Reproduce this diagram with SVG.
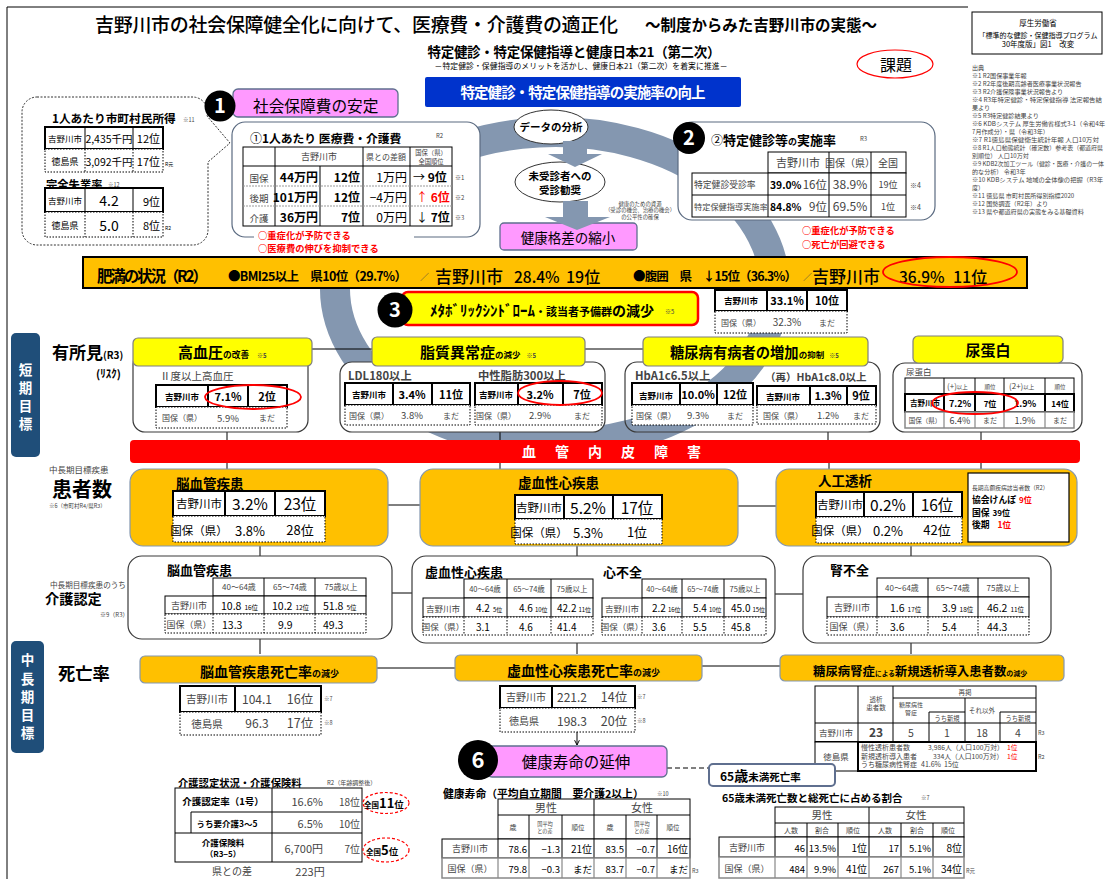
<svg xmlns="http://www.w3.org/2000/svg" width="1109" height="879" viewBox="0 0 1109 879">
<defs>
<style>
text{font-family:'Noto Sans CJK JP','Noto Sans',sans-serif;fill:#000}
.b{font-weight:700}
.m{text-anchor:middle}
.e{text-anchor:end}
.rd{fill:#f00}
.wt{fill:#fff}
.gy{fill:#444}
.tk{fill:#fff;stroke:#000;stroke-width:2}
.tn{fill:#fff;stroke:#000;stroke-width:1}
.td{fill:#fff;stroke:#000;stroke-width:1;stroke-dasharray:1.5 1.5}
.tg{fill:#fff;stroke:#888;stroke-width:1.5}
.ln{fill:none;stroke:#000;stroke-width:1}
.lk{fill:none;stroke:#000;stroke-width:2}
.ld{fill:none;stroke:#000;stroke-width:1;stroke-dasharray:1.5 1.5}
.lg{fill:none;stroke:#888;stroke-width:1.2}
.ye{fill:#ff0;stroke:#7f7f7f;stroke-width:1.2}
.or{fill:#ffc000;stroke:#8497b0;stroke-width:1.2}
.pk{fill:#f9f;stroke:#5f6f8f;stroke-width:1.3}
.wb{fill:#fff;stroke:#3a3a3a;stroke-width:1.2}
.tab{fill:#1f4e79}
.ov{fill:none;stroke:#f00;stroke-width:1.8}
.ovd{fill:none;stroke:#f00;stroke-width:1.2;stroke-dasharray:3 2}
.arr{fill:#8497b0}
</style>
<marker id="ah" viewBox="0 0 10 10" refX="9" refY="5" markerWidth="6" markerHeight="6" orient="auto"><path d="M1 1L9 5L1 9" fill="none" stroke="#000" stroke-width="1.6"/></marker>
</defs>
<rect width="1109" height="879" fill="#fff"/>
<g id="frame"><path class="ln" stroke-width="1.5" d="M7 879V7H968"/></g>
<g id="cycle"><path d="M335.1 282.6A220 156 0 1 0 355.6 222.1" fill="none" stroke="#8497b0" stroke-width="30"/></g>

<g id="title">
<text x="95" y="32" font-size="19" font-weight="500" textLength="523">吉野川市の社会保障健全化に向けて、医療費・介護費の適正化</text>
<text x="645" y="31" font-size="15.5" class="b" textLength="232">～制度からみた吉野川市の実態～</text>
<text x="574" y="57" font-size="13.5" class="b m" textLength="293">特定健診・特定保健指導と健康日本21（第二次）</text>
<text x="581" y="69" font-size="7.8" class="m" textLength="293">－特定健診・保健指導のメリットを活かし、健康日本21（第二次）を着実に推進－</text>
</g>

<g id="n-blue"><rect x="425" y="77" width="316" height="30" rx="2" fill="#0033cc"/><text x="583" y="98" font-size="14.5" class="b m wt" textLength="245">特定健診・特定保健指導の実施率の向上</text></g>

<g id="n-kadai"><ellipse cx="895" cy="64" rx="38" ry="14" fill="none" stroke="#f00" stroke-width="1.2"/><text x="896" y="71" font-size="16" class="m">課題</text></g>

<g id="n-ref"><rect x="972" y="12" width="130" height="42" fill="#fff" stroke="#000" stroke-width="1"/>
<text x="1038" y="26" font-size="7.5" class="m">厚生労働省</text>
<text x="1038" y="38" font-size="7" class="m">「標準的な健診・保健指導プログラム</text>
<text x="1038" y="47" font-size="7.5" class="m">30年度版」図1　改変</text></g>

<g id="n-notes" font-size="6.1">
<text x="972" y="69.5" class="gy">出典</text>
<text x="972" y="77.5" class="gy">※1 R2国保事業年報</text>
<text x="972" y="85.5" class="gy">※2 R2年度後期高齢者医療事業状況報告</text>
<text x="972" y="93.5" class="gy">※3 R2介護保険事業状況報告より</text>
<text x="972" y="101.5" class="gy" textLength="130" lengthAdjust="spacingAndGlyphs">※4 R3年特定健診・特定保健指導 法定報告結</text>
<text x="972" y="109.5" class="gy">果より</text>
<text x="972" y="117.5" class="gy">※5 R3特定健診結果より</text>
<text x="972" y="125.5" class="gy" textLength="133" lengthAdjust="spacingAndGlyphs">※6 KDBシステム 厚生労働省様式3-1（令和4年</text>
<text x="972" y="133.5" class="gy">7月作成分）・県（令和3年）</text>
<text x="972" y="141.5" class="gy" textLength="127" lengthAdjust="spacingAndGlyphs">※7 R1徳島県保健衛生統計年報 人口10万対</text>
<text x="972" y="149.5" class="gy" textLength="131" lengthAdjust="spacingAndGlyphs">※8 R1人口動態統計（確定数）参考表（都道府県</text>
<text x="972" y="157.5" class="gy">別順位） 人口10万対</text>
<text x="972" y="165.5" class="gy" textLength="132" lengthAdjust="spacingAndGlyphs">※9 KDB2次加工ツール（健診・医療・介護の一体</text>
<text x="972" y="173.5" class="gy">的な分析） 令和3年</text>
<text x="972" y="181.5" class="gy" textLength="131" lengthAdjust="spacingAndGlyphs">※10 KDBシステム 地域の全体像の把握（R3年</text>
<text x="972" y="189.5" class="gy">度）</text>
<text x="972" y="197.5" class="gy">※11 徳島県 市町村民所得別指標2020</text>
<text x="972" y="205.5" class="gy">※12 国勢調査（R2年）より</text>
<text x="972" y="213.5" class="gy">※13 県や都道府県の実態をみる基礎資料</text>
</g>

<g id="n-bubble">
<path d="M37 97H193A15 15 0 0 1 207 116L230 143L208 162V230A15 15 0 0 1 193 245H37A15 15 0 0 1 22 230V112A15 15 0 0 1 37 97Z" fill="#fff" stroke="#333" stroke-width="1" stroke-dasharray="2 1.5"/>
<text x="52" y="123" font-size="11.7" class="b">1人あたり市町村民所得</text>
<text x="183" y="122" font-size="5.5" class="gy">※11</text>
<rect class="tk" x="45" y="127" width="118" height="22"/>
<path class="ln" d="M85 127V149M133 127V149"/>
<rect class="td" x="45" y="149" width="118" height="23"/>
<path class="ld" d="M85 149V172M133 149V172"/>
<text x="65" y="142" font-size="8.5" class="m">吉野川市</text>
<text x="109" y="143" font-size="10.5" class="m">2,435千円</text>
<text x="160" y="143" font-size="11" class="e">12位</text>
<text x="65" y="165" font-size="9" class="m">徳島県</text>
<text x="109" y="166" font-size="10.5" class="m">3,092千円</text>
<text x="160" y="166" font-size="11" class="e">17位</text>
<text x="165" y="166" font-size="5">R元</text>
<text x="46" y="189" font-size="11.3" class="b">完全失業率</text>
<text x="108" y="187" font-size="5.5" class="gy">※12</text>
<rect class="tk" x="45" y="188" width="118" height="24"/>
<path class="ln" d="M85 188V212M133 188V212"/>
<rect class="td" x="45" y="212" width="118" height="25"/>
<path class="ld" d="M85 212V237M133 212V237"/>
<text x="65" y="204" font-size="8.5" class="m">吉野川市</text>
<text x="109" y="206" font-size="14" class="m">4.2</text>
<text x="160" y="206" font-size="11" class="e">9位</text>
<text x="65" y="229" font-size="9" class="m">徳島県</text>
<text x="109" y="231" font-size="14" class="m">5.0</text>
<text x="160" y="230" font-size="11" class="e">8位</text>
<text x="165" y="230" font-size="5">R2</text>
</g>

<g id="n-1">
<rect class="pk" x="233" y="89" width="165" height="28" rx="5"/>
<text x="253" y="112" font-size="15.7">社会保障費の安定</text>
<circle cx="220" cy="106" r="15.5" fill="#000"/>
<text x="220" y="113" font-size="20" class="b m wt">1</text>
</g>

<g id="n-cost">
<rect x="232" y="122" width="248" height="115" rx="13" fill="#fff" stroke="#5a6a80" stroke-width="1.2"/>
<text x="250" y="143" font-size="12">①<tspan class="b" font-size="11.8">1人あたり 医療費・介護費</tspan></text>
<text x="436" y="138" font-size="6" class="gy">R2</text>
<rect class="tn" x="243" y="147" width="209" height="79" stroke-width="1.5"/>
<path class="ln" d="M275 147V226M363 147V226M410 147V226M320 166V226M243 166H452"/>
<path fill="none" stroke="#999" stroke-width="1" stroke-dasharray="2 1" d="M243 186H452M243 206H452"/>
<text x="319" y="160" font-size="9" class="m gy">吉野川市</text>
<text x="386" y="160" font-size="8" class="m gy">県との差額</text>
<text x="431" y="155" font-size="6.3" class="m gy">国保（県）</text>
<text x="431" y="163.5" font-size="6.3" class="m gy">全国順位</text>
<text x="259" y="182" font-size="9.5" class="m gy">国保</text>
<text x="318" y="182" font-size="12" class="b e">44万円</text>
<text x="360" y="182" font-size="12" class="b e">12位</text>
<text x="407" y="182" font-size="12" class="e">1万円</text>
<text x="413" y="182" font-size="12">→ <tspan class="b">9位</tspan></text>
<text x="455" y="180" font-size="6" class="gy">※1</text>
<text x="259" y="202" font-size="9.5" class="m gy">後期</text>
<text x="318" y="202" font-size="12" class="b e">101万円</text>
<text x="360" y="202" font-size="12" class="b e">12位</text>
<text x="407" y="202" font-size="12" class="e">−4万円</text>
<text x="416" y="202" font-size="12" class="rd">↑ <tspan class="b rd">6位</tspan></text>
<text x="455" y="200" font-size="6" class="gy">※2</text>
<text x="259" y="222" font-size="9.5" class="m gy">介護</text>
<text x="318" y="222" font-size="12" class="b e">36万円</text>
<text x="360" y="222" font-size="12" class="b e">7位</text>
<text x="407" y="222" font-size="12" class="e">0万円</text>
<text x="416" y="222" font-size="12">↓ <tspan class="b">7位</tspan></text>
<text x="455" y="220" font-size="6" class="gy">※3</text>
<rect x="254" y="229" width="160" height="25" fill="#fff"/>
<text x="258" y="239" font-size="9.3" class="b rd">○重症化が予防できる</text>
<text x="258" y="252" font-size="9.3" class="b rd">○医療費の伸びを抑制できる</text>
</g>

<g id="n-flow">
<ellipse cx="551" cy="127" rx="37" ry="17" fill="#fff" stroke="#333" stroke-width="1"/>
<text x="551" y="131" font-size="10.5" class="b m">データの分析</text>
<ellipse cx="560" cy="182" rx="45" ry="20" fill="#fff" stroke="#333" stroke-width="1"/>
<text x="560" y="180" font-size="10.5" class="b m">未受診者への</text>
<text x="560" y="194" font-size="10.5" class="b m">受診勧奨</text>
<polygon class="arr" points="563,141 587,141 587,154 602,154 575,167 548,154 563,154"/>
<rect class="pk" x="500" y="223" width="137" height="27" rx="4"/>
<text x="568" y="243" font-size="13.5" class="m">健康格差の縮小</text>
<polygon class="arr" points="563,201 588,201 588,217 610,217 577,230 545,217 563,217"/>
<text x="640" y="205.5" font-size="5.4" class="m gy">健康のための資源</text>
<text x="640" y="212" font-size="5.4" class="m gy">（受診の機会、治療の機会）</text>
<text x="640" y="218.5" font-size="5.4" class="m gy">の公平性の確保</text>
</g>

<g id="n-2">
<rect x="678" y="122" width="257" height="98" rx="14" fill="#fff" stroke="#5a6a80" stroke-width="1.2"/>
<circle cx="689" cy="138" r="16" fill="#000"/>
<text x="689" y="145" font-size="20" class="b m wt">2</text>
<text x="711" y="145" font-size="12">②<tspan class="b" font-size="13">特定健診等</tspan><tspan class="b" font-size="9">の</tspan><tspan class="b" font-size="13">実施率</tspan></text>
<text x="860" y="141" font-size="6" class="gy">R3</text>
<rect class="tn" x="768" y="152" width="138" height="21"/>
<path class="ln" d="M829 152V173M871 152V173"/>
<rect class="tn" x="692" y="173" width="214" height="44"/>
<path class="ln" d="M692 195H906M768 173V217M829 173V217M871 173V217"/>
<text x="798" y="167" font-size="11" class="m gy">吉野川市</text>
<text x="850" y="167" font-size="10" class="m gy">国保（県）</text>
<text x="888" y="167" font-size="10" class="m gy">全国</text>
<text x="694" y="188" font-size="8.8" class="gy">特定健診受診率</text>
<text x="770" y="189" font-size="10.3" class="b">39.0%</text>
<text x="827" y="189" font-size="11.5" class="e gy">16位</text>
<text x="850" y="189" font-size="12" class="m gy">38.9%</text>
<text x="888" y="188" font-size="9" class="m gy">19位</text>
<text x="910" y="188" font-size="7" class="gy">※4</text>
<text x="694" y="210" font-size="8.2" class="gy">特定保健指導実施率</text>
<text x="770" y="211" font-size="10.3" class="b">84.8%</text>
<text x="827" y="211" font-size="11.5" class="e gy">9位</text>
<text x="850" y="211" font-size="12" class="m gy">69.5%</text>
<text x="888" y="210" font-size="9" class="m gy">1位</text>
<text x="910" y="210" font-size="7" class="gy">※4</text>
<text x="802" y="234" font-size="9.3" class="b rd">○重症化が予防できる</text>
<text x="802" y="248" font-size="9.3" class="b rd">○死亡が回避できる</text>
</g>

<g id="n-obesity">
<rect x="83" y="257" width="944" height="31" fill="#ffc000" stroke="#000" stroke-width="2"/>
<text x="97" y="282" font-size="15.5" class="b" textLength="111">肥満の状況（R2）</text>
<text x="228" y="281" font-size="12.5" class="b" textLength="179">●BMI25以上　県10位（29.7%）</text>
<text x="420" y="280" font-size="9" class="gy">／</text>
<text x="435" y="283" font-size="17" font-weight="500">吉野川市<tspan x="514" font-size="15.5">28.4%</tspan><tspan x="566" font-size="16">19位</tspan></text>
<text x="633" y="281" font-size="12.5" class="b" textLength="164">●腹囲　県　↓15位（36.3%）</text>
<text x="803" y="280" font-size="9" class="gy">／</text>
<text x="812" y="283" font-size="17" font-weight="500">吉野川市<tspan x="899" font-size="15.5">36.9%</tspan><tspan x="953" font-size="16">11位</tspan></text>
<ellipse class="ov" cx="950" cy="272" rx="67" ry="15"/>
</g>

<g id="n-3">
<rect x="402" y="292" width="296" height="33" rx="6" fill="#ff0" stroke="#f00" stroke-width="2.5"/>
<circle cx="395" cy="310" r="17.5" fill="#000"/>
<text x="395" y="317" font-size="20" class="b m wt">3</text>
<text x="430" y="316" font-size="15" class="b">ﾒﾀﾎﾞﾘｯｸｼﾝﾄﾞﾛｰﾑ<tspan font-size="11">・該当者予備群</tspan><tspan font-size="14">の減少</tspan></text>
<text x="665" y="314" font-size="6" class="gy">※5</text>
<rect class="tk" x="715" y="290" width="132" height="21"/>
<path class="lk" d="M767 290V311M807 290V311"/>
<rect class="td" x="715" y="311" width="132" height="22"/>
<text x="741" y="304" font-size="8.5" class="b m">吉野川市</text>
<text x="787" y="305" font-size="11" class="b m">33.1%</text>
<text x="827" y="305" font-size="11" class="b m">10位</text>
<text x="741" y="326" font-size="8" class="m gy">国保（県）</text>
<text x="787" y="326" font-size="10" class="m gy">32.3%</text>
<text x="827" y="326" font-size="8" class="m gy">まだ</text>
</g>

<g id="n-tabs">
<rect class="tab" x="11" y="333" width="29" height="124" rx="5"/>
<text x="25.5" y="375" font-size="13.5" class="b m wt">短</text>
<text x="25.5" y="393" font-size="13.5" class="b m wt">期</text>
<text x="25.5" y="411" font-size="13.5" class="b m wt">目</text>
<text x="25.5" y="429" font-size="13.5" class="b m wt">標</text>
<rect class="tab" x="11" y="641" width="33" height="112" rx="5"/>
<text x="27.5" y="665" font-size="13.5" class="b m wt">中</text>
<text x="27.5" y="684" font-size="13.5" class="b m wt">長</text>
<text x="27.5" y="702" font-size="13.5" class="b m wt">期</text>
<text x="27.5" y="720" font-size="13.5" class="b m wt">目</text>
<text x="27.5" y="738" font-size="13.5" class="b m wt">標</text>
</g>

<g id="n-labels">
<text x="52" y="359" font-size="17" class="b">有所見<tspan font-size="10">(R3)</tspan></text>
<text x="96" y="378" font-size="11" class="b">(ﾘｽｸ)</text>
<text x="49" y="473" font-size="8.5" class="gy">中長期目標疾患</text>
<text x="52" y="497" font-size="20" class="b">患者数</text>
<text x="49" y="508" font-size="5.5" class="gy">※6（市町村R4/県R3）</text>
<text x="50" y="588" font-size="7.6" class="gy">中長期目標疾患のうち</text>
<text x="45" y="604" font-size="14.2" class="b">介護認定</text>
<text x="100" y="617" font-size="6" class="gy">※9（R3）</text>
<text x="58" y="680" font-size="17.3" class="b">死亡率</text>
</g>

<g id="connectors">
<path class="ln" d="M312 349H372M585 349H643"/>
<path class="ln" d="M227 432V440M500 432V440M828 432V440M981 432V440"/>
<path class="ln" d="M227 463V469M500 463V469M829 463V469M981 463V473"/>
<path class="ln" d="M388 505H420M738 506H776"/>
<path class="ln" d="M260 546V556M577 546V556M911 546V556"/>
<path class="ln" d="M392 593H412M775 594H803"/>
<path class="ln" marker-end="url(#ah)" d="M260 639V654M577 643V654M911 643V654M577 732V745"/>
<path class="ln" stroke-width="1.2" d="M377 668H455M702 666H780"/>
<path class="ln" stroke-width="1.2" stroke-dasharray="5 3" d="M667 768H709"/>
</g>

<g id="n-hbp">
<rect class="wb" x="133" y="352" width="175" height="80" rx="12"/>
<rect class="ye" x="133" y="338" width="179" height="28" rx="5"/>
<text x="178" y="358" font-size="15" class="b">高血圧<tspan font-size="8.7">の改善</tspan><tspan font-size="6" class="gy" dx="8">※5</tspan></text>
<text x="160" y="380" font-size="10.5" class="gy">Ⅱ度以上高血圧</text>
<rect class="tk" x="156" y="385" width="131" height="22"/>
<path class="lk" d="M208 385V407M248 385V407"/>
<rect class="td" x="156" y="407" width="131" height="21"/>
<text x="182" y="400" font-size="8.5" class="b m">吉野川市</text>
<text x="228" y="401" font-size="11" class="b m">7.1%</text>
<text x="267" y="401" font-size="11" class="b m">2位</text>
<text x="182" y="421" font-size="8" class="m gy">国保（県）</text>
<text x="228" y="422" font-size="9.5" class="m gy">5.9%</text>
<text x="267" y="421" font-size="8" class="m gy">まだ</text>
<ellipse class="ov" cx="253" cy="397" rx="48" ry="12"/>
</g>

<g id="n-lipid">
<rect class="wb" x="340" y="362" width="265" height="70" rx="12"/>
<rect class="ye" x="372" y="337" width="213" height="29" rx="5"/>
<text x="420" y="358" font-size="15" class="b">脂質異常症<tspan font-size="8.5">の減少</tspan><tspan font-size="6" class="gy" dx="6">※5</tspan></text>
<text x="348" y="380" font-size="11.3" class="b gy">LDL180以上</text>
<text x="478" y="380" font-size="11.3" class="b gy">中性脂肪300以上</text>
<rect class="tk" x="345" y="383" width="125" height="22"/>
<path class="lk" d="M393 383V405M432 383V405"/>
<rect class="td" x="345" y="405" width="125" height="20"/>
<text x="369" y="398" font-size="8.5" class="b m">吉野川市</text>
<text x="412" y="399" font-size="11" class="b m">3.4%</text>
<text x="451" y="399" font-size="11" class="b m">11位</text>
<text x="369" y="419" font-size="8" class="m gy">国保（県）</text>
<text x="412" y="419" font-size="9.5" class="m gy">3.8%</text>
<text x="451" y="419" font-size="8" class="m gy">まだ</text>
<rect class="tk" x="475" y="383" width="127" height="22"/>
<path class="lk" d="M518 383V405M563 383V405"/>
<rect class="td" x="475" y="405" width="127" height="20"/>
<text x="496" y="398" font-size="8.5" class="b m">吉野川市</text>
<text x="540" y="399" font-size="11" class="b m">3.2%</text>
<text x="582" y="399" font-size="11" class="b m">7位</text>
<text x="496" y="419" font-size="8" class="m gy">国保（県）</text>
<text x="540" y="419" font-size="9.5" class="m gy">2.9%</text>
<text x="582" y="419" font-size="8" class="m gy">まだ</text>
<ellipse class="ov" cx="560" cy="393" rx="42" ry="12"/>
</g>

<g id="n-diabetes">
<rect x="625" y="362" width="255" height="70" rx="12" fill="none" stroke="#3a3a3a" stroke-width="1.2"/>
<rect class="ye" x="643" y="337" width="225" height="29" rx="5"/>
<text x="670" y="358" font-size="14.3" class="b">糖尿病有病者の増加<tspan font-size="8.5">の抑制</tspan><tspan font-size="6" class="gy" dx="5">※5</tspan></text>
<text x="635" y="380" font-size="11.3" class="b gy">HbA1c6.5以上</text>
<text x="765" y="381" font-size="10.5" class="b gy">（再）HbA1c8.0以上</text>
<rect class="tk" x="632" y="383" width="121" height="22"/>
<path class="lk" d="M680 383V405M717 383V405"/>
<rect class="td" x="632" y="405" width="121" height="20"/>
<text x="656" y="399" font-size="8.5" class="b m">吉野川市</text>
<text x="698" y="399" font-size="11" class="b m">10.0%</text>
<text x="735" y="399" font-size="11" class="b m">12位</text>
<text x="656" y="419" font-size="8" class="m gy">国保（県）</text>
<text x="698" y="419" font-size="9.5" class="m gy">9.3%</text>
<text x="735" y="419" font-size="8" class="m gy">まだ</text>
<rect class="tk" x="757" y="386" width="119" height="19"/>
<path class="lk" d="M810 386V405M847 386V405"/>
<rect class="td" x="757" y="405" width="119" height="19"/>
<text x="783" y="400" font-size="8.5" class="b m">吉野川市</text>
<text x="828" y="400" font-size="11" class="b m">1.3%</text>
<text x="861" y="400" font-size="11" class="b m">9位</text>
<text x="783" y="419" font-size="8" class="m gy">国保（県）</text>
<text x="828" y="419" font-size="9.5" class="m gy">1.2%</text>
<text x="861" y="419" font-size="8" class="m gy">まだ</text>
</g>

<g id="n-urine">
<rect class="wb" x="893" y="363" width="189" height="69" rx="12"/>
<rect class="ye" x="913" y="336" width="150" height="27" rx="5"/>
<text x="988" y="356" font-size="15" class="b m">尿蛋白</text>
<text x="906" y="375" font-size="8.5" class="gy">尿蛋白</text>
<rect class="tn" x="905" y="378" width="169" height="16"/>
<path class="ln" d="M944 378V394M975 378V394M1004 378V394M1045 378V394"/>
<rect class="tk" x="905" y="394" width="169" height="18"/>
<path class="lk" d="M944 394V412M975 394V412M1004 394V412M1045 394V412"/>
<rect class="tg" x="905" y="412" width="169" height="16"/>
<path class="lg" d="M944 412V428M975 412V428M1004 412V428M1045 412V428"/>
<text x="947" y="389" font-size="8" class="gy">(+)<tspan font-size="5.5">以上</tspan></text>
<text x="990" y="389" font-size="5.5" class="m gy">順位</text>
<text x="1009" y="389" font-size="8" class="gy">(2+)<tspan font-size="5.5">以上</tspan></text>
<text x="1060" y="389" font-size="5.5" class="m gy">順位</text>
<text x="925" y="406" font-size="7.5" class="b m">吉野川市</text>
<text x="960" y="407" font-size="9" class="b m">7.2%</text>
<text x="990" y="407" font-size="8" class="b m">7位</text>
<text x="1025" y="407" font-size="9" class="b m">1.9%</text>
<text x="1060" y="407" font-size="8" class="b m">14位</text>
<text x="925" y="423" font-size="6.5" class="m gy">国保（県）</text>
<text x="960" y="424" font-size="9" class="m gy">6.4%</text>
<text x="990" y="423" font-size="7" class="m gy">まだ</text>
<text x="1025" y="424" font-size="9" class="m gy">1.9%</text>
<text x="1060" y="423" font-size="7" class="m gy">まだ</text>
<ellipse class="ov" cx="975" cy="403" rx="43" ry="11"/>
</g>

<g id="n-endo">
<rect x="130" y="440" width="950" height="23" rx="4" fill="#f00"/>
<text x="522 555 588 621 654 687" y="457" font-size="14" class="b wt">血管内皮障害</text>
</g>

<g id="n-pA">
<rect class="or" x="130" y="469" width="258" height="77" rx="13"/>
<text x="176" y="489" font-size="13.5" class="b">脳血管疾患</text>
<rect class="tk" x="173" y="491" width="152" height="25" fill="none"/>
<path class="lk" d="M225 491V516M275 491V516"/>
<rect class="td" x="173" y="516" width="152" height="26" fill="none"/>
<text x="199" y="508" font-size="11.5" class="m">吉野川市</text>
<text x="250" y="510" font-size="15.5" class="m">3.2%</text>
<text x="300" y="510" font-size="15.5" class="m">23位</text>
<text x="199" y="535" font-size="11.5" class="m">国保（県）</text>
<text x="250" y="536" font-size="13" class="m">3.8%</text>
<text x="300" y="535" font-size="13" class="m">28位</text>
</g>

<g id="n-pB">
<rect class="or" x="420" y="469" width="318" height="77" rx="13"/>
<text x="518" y="488" font-size="13.5" class="b">虚血性心疾患</text>
<rect class="tk" x="515" y="495" width="147" height="24" fill="none"/>
<path class="lk" d="M564 495V519M613 495V519"/>
<rect class="td" x="515" y="519" width="147" height="25" fill="none"/>
<text x="539" y="512" font-size="11.5" class="m">吉野川市</text>
<text x="588" y="514" font-size="15.5" class="m">5.2%</text>
<text x="637" y="514" font-size="15.5" class="m">17位</text>
<text x="539" y="537" font-size="11.5" class="m">国保（県）</text>
<text x="588" y="538" font-size="13" class="m">5.3%</text>
<text x="637" y="537" font-size="13" class="m">1位</text>
</g>

<g id="n-pC">
<rect class="or" x="776" y="469" width="301" height="77" rx="13"/>
<text x="818" y="486" font-size="13.5" class="b">人工透析</text>
<rect class="tk" x="816" y="492" width="146" height="25" fill="none"/>
<path class="lk" d="M864 492V517M913 492V517"/>
<rect class="td" x="816" y="517" width="146" height="26" fill="none"/>
<text x="840" y="509" font-size="11.5" class="m">吉野川市</text>
<text x="888" y="511" font-size="15.5" class="m">0.2%</text>
<text x="937" y="511" font-size="15.5" class="m">16位</text>
<text x="840" y="535" font-size="11.5" class="m">国保（県）</text>
<text x="888" y="536" font-size="13" class="m">0.2%</text>
<text x="937" y="535" font-size="13" class="m">42位</text>
<rect x="968" y="473" width="101" height="69" fill="#fff" stroke="#000" stroke-width="1.2"/>
<text x="972" y="490" font-size="5.8" class="gy">長期高額疾病該当者数（R2）</text>
<text x="972" y="503" font-size="8.8" class="b">協会けんぽ<tspan font-size="8" class="rd" dx="3">9位</tspan></text>
<text x="972" y="515.5" font-size="8.8" class="b">国保<tspan font-size="8" dx="3">39位</tspan></text>
<text x="972" y="528" font-size="8.8" class="b">後期<tspan font-size="8.5" class="rd" dx="8">1位</tspan></text>
</g>

<g id="n-cD">
<rect class="wb" x="128" y="556" width="264" height="83" rx="14"/>
<text x="167" y="575" font-size="13" class="b">脳血管疾患</text>
<rect class="tn" x="213" y="578" width="153" height="18"/>
<path class="ln" d="M264 578V596M315 578V596"/>
<rect class="tn" x="165" y="596" width="201" height="18"/>
<path class="ln" d="M213 596V614M264 596V614M315 596V614"/>
<rect class="td" x="165" y="614" width="201" height="19"/>
<path class="ld" d="M213 614V633M264 614V633M315 614V633"/>
<text x="239" y="590" font-size="8" class="m gy">40～64歳</text>
<text x="290" y="590" font-size="8" class="m gy">65～74歳</text>
<text x="341" y="590" font-size="8" class="m gy">75歳以上</text>
<text x="189" y="609" font-size="9" class="m gy">吉野川市</text>
<text x="221" y="610" font-size="10.5">10.8<tspan font-size="6.5" dx="3">16位</tspan></text>
<text x="272" y="610" font-size="10.5">10.2<tspan font-size="6.5" dx="3">12位</tspan></text>
<text x="323" y="610" font-size="10.5">51.8<tspan font-size="6.5" dx="3">5位</tspan></text>
<text x="189" y="628" font-size="9" class="m gy">国保（県）</text>
<text x="222" y="629" font-size="10.5">13.3</text>
<text x="278" y="629" font-size="10.5">9.9</text>
<text x="323" y="629" font-size="10.5">49.3</text>
</g>

<g id="n-cE">
<rect class="wb" x="412" y="556" width="363" height="87" rx="14"/>
<text x="425" y="577" font-size="13" class="b">虚血性心疾患</text>
<text x="603" y="577" font-size="13" class="b">心不全</text>
<rect class="tn" x="464" y="579" width="129" height="19"/>
<path class="ln" d="M507 579V598M551 579V598"/>
<rect class="tn" x="423" y="598" width="170" height="19"/>
<path class="ln" d="M464 598V617M507 598V617M551 598V617"/>
<rect class="td" x="423" y="617" width="170" height="18"/>
<path class="ld" d="M464 617V635M507 617V635M551 617V635"/>
<text x="485" y="592" font-size="7.5" class="m gy">40～64歳</text>
<text x="529" y="592" font-size="7.5" class="m gy">65～74歳</text>
<text x="572" y="592" font-size="7.5" class="m gy">75歳以上</text>
<text x="443" y="612" font-size="8.5" class="m gy">吉野川市</text>
<text x="476" y="612" font-size="10">4.2<tspan font-size="6" dx="3">5位</tspan></text>
<text x="519" y="612" font-size="10">4.6<tspan font-size="6" dx="2">10位</tspan></text>
<text x="557" y="612" font-size="10">42.2<tspan font-size="6" dx="2">11位</tspan></text>
<text x="443" y="630" font-size="8.5" class="m gy">国保（県）</text>
<text x="476" y="631" font-size="10">3.1</text>
<text x="519" y="631" font-size="10">4.6</text>
<text x="557" y="631" font-size="10">41.4</text>
<rect class="tn" x="642" y="579" width="124" height="19"/>
<path class="ln" d="M682 579V598M724 579V598"/>
<rect class="tn" x="602" y="598" width="164" height="19"/>
<path class="ln" d="M642 598V617M682 598V617M724 598V617"/>
<rect class="td" x="602" y="617" width="164" height="18"/>
<path class="ld" d="M642 617V635M682 617V635M724 617V635"/>
<text x="662" y="592" font-size="7.5" class="m gy">40～64歳</text>
<text x="703" y="592" font-size="7.5" class="m gy">65～74歳</text>
<text x="745" y="592" font-size="7.5" class="m gy">75歳以上</text>
<text x="622" y="612" font-size="8.5" class="m gy">吉野川市</text>
<text x="652" y="612" font-size="10">2.2<tspan font-size="6" dx="2">16位</tspan></text>
<text x="693" y="612" font-size="10">5.4<tspan font-size="6" dx="2">10位</tspan></text>
<text x="731" y="612" font-size="10">45.0<tspan font-size="6" dx="2">15位</tspan></text>
<text x="622" y="630" font-size="8.5" class="m gy">国保（県）</text>
<text x="652" y="631" font-size="10">3.6</text>
<text x="693" y="631" font-size="10">5.5</text>
<text x="731" y="631" font-size="10">45.8</text>
</g>

<g id="n-cF">
<rect class="wb" x="803" y="556" width="248" height="87" rx="14"/>
<text x="830" y="575" font-size="13" class="b">腎不全</text>
<rect class="tn" x="877" y="578" width="152" height="19"/>
<path class="ln" d="M928 578V597M978 578V597"/>
<rect class="tn" x="827" y="597" width="202" height="20"/>
<path class="ln" d="M877 597V617M928 597V617M978 597V617"/>
<rect class="td" x="827" y="617" width="202" height="18"/>
<path class="ld" d="M877 617V635M928 617V635M978 617V635"/>
<text x="902" y="591" font-size="8" class="m gy">40～64歳</text>
<text x="953" y="591" font-size="8" class="m gy">65～74歳</text>
<text x="1003" y="591" font-size="8" class="m gy">75歳以上</text>
<text x="852" y="611" font-size="9" class="m gy">吉野川市</text>
<text x="890" y="612" font-size="10.5">1.6<tspan font-size="6.5" dx="3">17位</tspan></text>
<text x="942" y="612" font-size="10.5">3.9<tspan font-size="6.5" dx="3">18位</tspan></text>
<text x="987" y="612" font-size="10.5">46.2<tspan font-size="6.5" dx="3">11位</tspan></text>
<text x="852" y="630" font-size="9" class="m gy">国保（県）</text>
<text x="890" y="631" font-size="10.5">3.6</text>
<text x="942" y="631" font-size="10.5">5.4</text>
<text x="987" y="631" font-size="10.5">44.3</text>
</g>

<g id="n-dG">
<rect class="or" x="140" y="656" width="237" height="27" rx="5"/>
<text x="200" y="677" font-size="14" class="b">脳血管疾患死亡率<tspan font-size="9">の減少</tspan></text>
<rect class="tk" x="180" y="686" width="141" height="26"/>
<path class="lk" d="M235 686V712"/>
<rect class="td" x="180" y="712" width="141" height="23"/>
<text x="207" y="703" font-size="10.5" class="m gy">吉野川市</text>
<text x="257" y="704" font-size="12" class="m gy">104.1</text>
<text x="300" y="704" font-size="12.5" class="m gy">16位</text>
<text x="207" y="728" font-size="10.5" class="m gy">徳島県</text>
<text x="257" y="728" font-size="12" class="m gy">96.3</text>
<text x="300" y="728" font-size="12.5" class="m gy">17位</text>
<text x="324" y="701" font-size="5.5" class="gy">※7</text>
<text x="324" y="725" font-size="5.5" class="gy">※8</text>
</g>

<g id="n-dH">
<rect class="or" x="455" y="655" width="247" height="26" rx="5"/>
<text x="507" y="676" font-size="14" class="b">虚血性心疾患死亡率<tspan font-size="9">の減少</tspan></text>
<rect class="tk" x="500" y="686" width="135" height="22"/>
<path class="lk" d="M552 686V708"/>
<rect class="td" x="500" y="708" width="135" height="24"/>
<text x="526" y="701" font-size="10" class="m gy">吉野川市</text>
<text x="572" y="702" font-size="12" class="m gy">221.2</text>
<text x="614" y="702" font-size="12.5" class="m gy">14位</text>
<text x="524" y="725" font-size="10" class="m gy">徳島県</text>
<text x="572" y="726" font-size="12" class="m gy">198.3</text>
<text x="614" y="726" font-size="12.5" class="m gy">20位</text>
<text x="637" y="699" font-size="5.5" class="gy">※7</text>
<text x="637" y="723" font-size="5.5" class="gy">※8</text>
</g>

<g id="n-dI">
<rect class="or" x="780" y="655" width="284" height="26" rx="5"/>
<text x="813" y="676" font-size="12.4" class="b">糖尿病腎症<tspan font-size="6.7">による</tspan>新規透析導入患者数<tspan font-size="7">の減少</tspan></text>
<rect class="tn" x="815" y="686" width="221" height="56" stroke-width="1.5"/>
<path class="ln" d="M858 686V742M893 686V742M893 698H1036M965 698V742M929 712H965M929 712V742M1000 712H1036M1000 712V742M815 723H1036"/>
<path class="lk" d="M815 742H1036"/>
<rect class="tn" x="815" y="742" width="43" height="29"/>
<rect class="tk" x="858" y="742" width="178" height="29"/>
<text x="876" y="701.5" font-size="6.5" class="m gy">透析</text>
<text x="876" y="710" font-size="6.5" class="m gy">患者数</text>
<text x="965" y="695" font-size="6.5" class="m gy">再掲</text>
<text x="911" y="707" font-size="6" class="m gy">糖尿病性</text>
<text x="911" y="715" font-size="6" class="m gy">腎症</text>
<text x="982" y="713" font-size="6.5" class="m gy">それ以外</text>
<text x="947" y="720.5" font-size="6.3" class="m gy">うち新規</text>
<text x="1018" y="720.5" font-size="6.3" class="m gy">うち新規</text>
<text x="836" y="736" font-size="8.5" class="m gy">吉野川市</text>
<text x="876" y="737" font-size="12" class="b m gy">23</text>
<text x="911" y="737" font-size="10.5" class="m gy">5</text>
<text x="947" y="737" font-size="10.5" class="m gy">1</text>
<text x="982" y="737" font-size="10.5" class="m gy">18</text>
<text x="1018" y="737" font-size="10.5" class="m gy">4</text>
<text x="1038" y="735" font-size="5.5" class="gy">R3</text>
<text x="836" y="760" font-size="8.5" class="m gy">徳島県</text>
<text x="861" y="750" font-size="7" class="gy">慢性透析患者数</text>
<text x="928" y="750" font-size="6.8" class="gy">3,986人（人口100万対）</text>
<text x="1007" y="750" font-size="6.8" class="rd">1位</text>
<text x="861" y="758.5" font-size="7" class="gy">新規透析導入患者</text>
<text x="933" y="758.5" font-size="6.8" class="gy">334人（人口100万対）</text>
<text x="1007" y="758.5" font-size="6.8" class="rd">1位</text>
<text x="861" y="767" font-size="7" class="gy">うち糖尿病性腎症<tspan dx="4">41.6%</tspan><tspan dx="3">15位</tspan></text>
<text x="1038" y="759" font-size="5.5" class="gy">R2</text>
</g>

<g id="n-65">
<rect x="709" y="764" width="126" height="22" rx="4" fill="#fff" stroke="#5f6f8f" stroke-width="2"/>
<text x="720" y="781" font-size="12" class="b">65<tspan font-size="14">歳</tspan><tspan font-size="10.5">未満死亡率</tspan></text>
</g>

<g id="n-6">
<rect class="pk" x="487" y="746" width="180" height="31" rx="5" stroke-width="1.5"/>
<circle cx="478" cy="760" r="20" fill="#000"/>
<text x="478" y="768" font-size="22" class="b m wt">6</text>
<text x="576" y="768" font-size="15.5" class="m">健康寿命の延伸</text>
</g>

<g id="n-life">
<text x="443" y="798" font-size="10.8" class="b">健康寿命（平均自立期間　要介護2以上）</text>
<text x="657" y="796" font-size="5.5" class="gy">※10</text>
<rect class="tn" x="498" y="799" width="192" height="40"/>
<path class="ln" d="M594 799V839M498 815H690M529 815V839M562 815V839M626 815V839M657 815V839"/>
<rect class="tn" x="442" y="839" width="248" height="19" stroke-width="1.5"/>
<path class="ln" d="M498 839V858M529 839V858M562 839V858M594 839V858M626 839V858M657 839V858"/>
<rect class="tg" x="442" y="858" width="248" height="20"/>
<path class="lg" d="M498 858V878M529 858V878M562 858V878M594 858V878M626 858V878M657 858V878"/>
<text x="546" y="812" font-size="11" class="m gy">男性</text>
<text x="642" y="812" font-size="11" class="m gy">女性</text>
<text x="513" y="830" font-size="7" class="m gy">歳</text>
<text x="545" y="826" font-size="5.2" class="m gy">国平均</text>
<text x="545" y="833" font-size="5.2" class="m gy">との差</text>
<text x="578" y="830" font-size="6.5" class="m gy">順位</text>
<text x="610" y="830" font-size="7" class="m gy">歳</text>
<text x="642" y="826" font-size="5.2" class="m gy">国平均</text>
<text x="642" y="833" font-size="5.2" class="m gy">との差</text>
<text x="673" y="830" font-size="6.5" class="m gy">順位</text>
<text x="470" y="852" font-size="9" class="m gy">吉野川市</text>
<text x="527" y="853" font-size="9.5" class="e">78.6</text>
<text x="560" y="853" font-size="9.5" class="e">−1.3</text>
<text x="592" y="853" font-size="10" class="e">21位</text>
<text x="624" y="853" font-size="9.5" class="e">83.5</text>
<text x="655" y="853" font-size="9.5" class="e">−0.7</text>
<text x="688" y="853" font-size="10" class="e">16位</text>
<text x="470" y="872" font-size="9" class="m gy">国保（県）</text>
<text x="527" y="873" font-size="9.5" class="e">79.8</text>
<text x="560" y="873" font-size="9.5" class="e">−0.3</text>
<text x="592" y="873" font-size="9.5" class="e">まだ</text>
<text x="624" y="873" font-size="9.5" class="e">83.7</text>
<text x="655" y="873" font-size="9.5" class="e">−0.7</text>
<text x="688" y="873" font-size="9.5" class="e">まだ</text>
<text x="692" y="873" font-size="5.5" class="gy">R3</text>
</g>

<g id="n-u65">
<text x="722" y="802" font-size="10.5" class="b">65歳未満死亡数と総死亡に占める割合</text>
<text x="921" y="800" font-size="5.5" class="gy">※7</text>
<rect class="tn" x="775" y="807" width="189" height="30"/>
<path class="ln" d="M869 807V837M775 823H964M807 823V837M838 823V837M901 823V837M933 823V837"/>
<rect class="tn" x="719" y="837" width="245" height="20" stroke-width="1.5"/>
<path class="ln" d="M775 837V857M807 837V857M838 837V857M869 837V857M901 837V857M933 837V857"/>
<rect class="tg" x="719" y="857" width="245" height="21"/>
<path class="lg" d="M775 857V878M807 857V878M838 857V878M869 857V878M901 857V878M933 857V878"/>
<text x="822" y="819" font-size="10.5" class="m gy">男性</text>
<text x="916" y="819" font-size="10.5" class="m gy">女性</text>
<text x="791" y="833" font-size="7" class="m gy">人数</text>
<text x="822" y="833" font-size="7" class="m gy">割合</text>
<text x="853" y="833" font-size="7" class="m gy">順位</text>
<text x="885" y="833" font-size="7" class="m gy">人数</text>
<text x="917" y="833" font-size="7" class="m gy">割合</text>
<text x="948" y="833" font-size="7" class="m gy">順位</text>
<text x="747" y="851" font-size="9" class="m gy">吉野川市</text>
<text x="805" y="852" font-size="9.5" class="e">46</text>
<text x="836" y="852" font-size="9.5" class="e">13.5%</text>
<text x="867" y="852" font-size="10" class="e">1位</text>
<text x="899" y="852" font-size="9.5" class="e">17</text>
<text x="931" y="852" font-size="9.5" class="e">5.1%</text>
<text x="962" y="852" font-size="10" class="e">8位</text>
<text x="747" y="872" font-size="9" class="m gy">国保（県）</text>
<text x="805" y="873" font-size="9.5" class="e">484</text>
<text x="836" y="873" font-size="9.5" class="e">9.9%</text>
<text x="867" y="873" font-size="10" class="e">41位</text>
<text x="899" y="873" font-size="9.5" class="e">267</text>
<text x="931" y="873" font-size="9.5" class="e">5.1%</text>
<text x="962" y="873" font-size="10" class="e">34位</text>
<text x="966" y="873" font-size="5.5" class="gy">R元</text>
</g>

<g id="n-care">
<text x="178" y="787" font-size="10.3" class="b">介護認定状況・介護保険料</text>
<text x="327" y="785" font-size="6" class="gy">R2（年齢調整後）</text>
<rect class="tn" x="175" y="788" width="187" height="74" stroke-width="1.5"/>
<path class="ln" d="M272 788V862M191 812H362M191 812V833M175 833H362"/>
<text x="223" y="805" font-size="9.5" class="b m">介護認定率（1号）</text>
<text x="323" y="806" font-size="11" class="e gy">16.6%</text>
<text x="360" y="806" font-size="10" class="e gy">18位</text>
<text x="227" y="827" font-size="8.5" class="b m">うち要介護3～5</text>
<text x="323" y="828" font-size="11" class="e gy">6.5%</text>
<text x="360" y="828" font-size="10" class="e gy">10位</text>
<text x="223" y="846" font-size="8.5" class="b m">介護保険料</text>
<text x="223" y="857" font-size="8" class="b m">（R3−5）</text>
<text x="323" y="853" font-size="11" class="e gy">6,700円</text>
<text x="360" y="853" font-size="10" class="e gy">7位</text>
<text x="232" y="875" font-size="10" class="m gy">県との差</text>
<text x="310" y="876" font-size="11" class="m gy">223円</text>
<ellipse class="ovd" cx="386" cy="803" rx="23" ry="10.5"/>
<text x="364" y="808" font-size="7.5" class="b">全国<tspan font-size="13">11</tspan><tspan font-size="9.5">位</tspan></text>
<ellipse class="ovd" cx="386" cy="850" rx="23" ry="12"/>
<text x="366" y="855" font-size="7.5" class="b">全国<tspan font-size="13">5</tspan><tspan font-size="9.5">位</tspan></text>
</g>
</svg>
